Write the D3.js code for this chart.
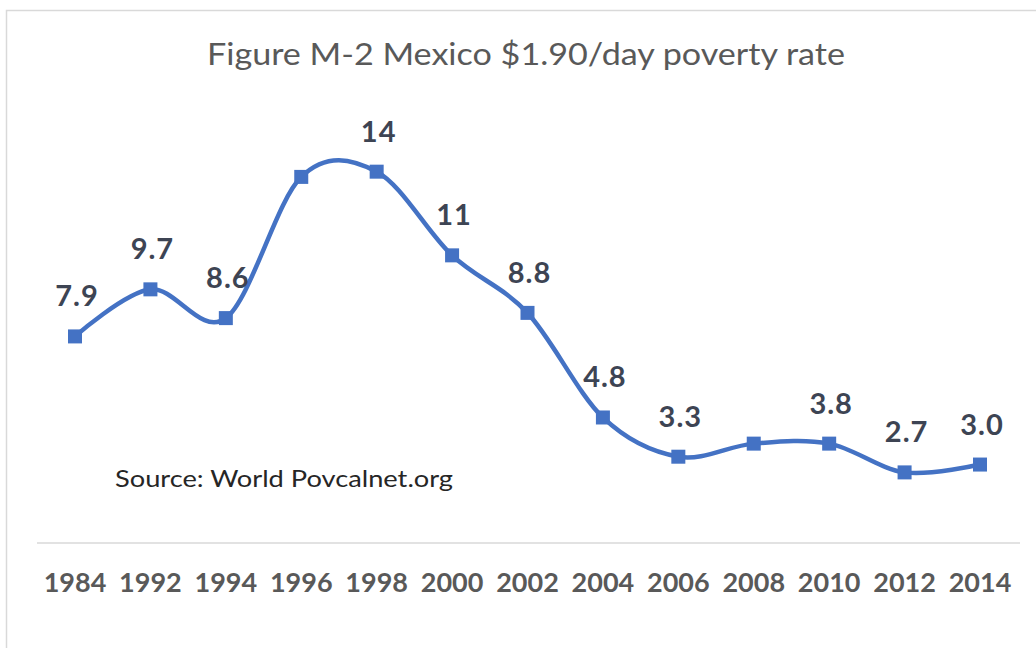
<!DOCTYPE html>
<html>
<head>
<meta charset="utf-8">
<script src="https://cdn.jsdelivr.net/npm/d3@7"></script>
<style>
  body { margin: 0; background: #fff; }
  text { font-family: Lato, "Open Sans", sans-serif; }
</style>
</head>
<body>
<div id="chart"></div>
<script>
// data
var years = ["1984", "1992", "1994", "1996", "1998", "2000", "2002", "2004", "2006", "2008", "2010", "2012", "2014"];
var rates = [7.9, 9.7, 8.6, 14.0, 14.2, 11.0, 8.8, 4.8, 3.3, 3.8, 3.8, 2.7, 3.0];
// which points carry a data label, and the text shown
var labels = ["7.9", "9.7", "8.6", null, "14", "11", "8.8", "4.8", "3.3", null, "3.8", "2.7", "3.0"];

var width = 1036, height = 648;

var svg = d3.select("#chart")
    .append("svg")
    .attr("width", width)
    .attr("height", height);

// chart frame
svg.append("rect")
    .attr("x", 6.5)
    .attr("y", 10.5)
    .attr("width", width + 10)
    .attr("height", height + 10)
    .attr("fill", "#fff")
    .attr("stroke", "#d9d9d9")
    .attr("stroke-width", 1.5);

var x = d3.scalePoint()
    .domain(years)
    .range([75, 980]);

var y = d3.scaleLinear()
    .domain([0, 16])
    .range([543, 543 - 16 * 26.15]);

// title
svg.append("text")
    .attr("x", 526)
    .attr("y", 65)
    .attr("text-anchor", "middle")
    .attr("font-size", 31)
    .attr("fill", "#595959")
    .attr("textLength", 638)
    .attr("lengthAdjust", "spacingAndGlyphs")
    .text("Figure M-2 Mexico $1.90/day poverty rate");

// x axis line
svg.append("line")
    .attr("x1", 37)
    .attr("x2", 1020)
    .attr("y1", y(0))
    .attr("y2", y(0))
    .attr("stroke", "#d9d9d9")
    .attr("stroke-width", 1.5);

// year labels
svg.selectAll(".tick")
    .data(years)
    .enter()
    .append("text")
    .attr("class", "tick")
    .attr("x", function (d) { return x(d); })
    .attr("y", 592)
    .attr("text-anchor", "middle")
    .attr("font-size", 27)
    .attr("font-weight", "bold")
    .attr("fill", "#595959")
    .text(function (d) { return d; });

var data = years.map(function (d, i) { return { year: d, value: rates[i], label: labels[i] }; });

var line = d3.line()
    .x(function (d) { return x(d.year); })
    .y(function (d) { return y(d.value); })
    .curve(d3.curveCardinal.tension(0));

svg.append("path")
    .datum(data)
    .attr("d", line)
    .attr("fill", "none")
    .attr("stroke", "#4472C4")
    .attr("stroke-width", 4.5)
    .attr("stroke-linejoin", "round");

svg.selectAll(".marker")
    .data(data)
    .enter()
    .append("rect")
    .attr("class", "marker")
    .attr("x", function (d) { return x(d.year) - 7; })
    .attr("y", function (d) { return y(d.value) - 7; })
    .attr("width", 14)
    .attr("height", 14)
    .attr("fill", "#4472C4");

svg.selectAll(".dlabel")
    .data(data.filter(function (d) { return d.label; }))
    .enter()
    .append("text")
    .attr("class", "dlabel")
    .attr("x", function (d) { return x(d.year) + 2; })
    .attr("y", function (d) { return y(d.value) - 30; })
    .attr("text-anchor", "middle")
    .attr("font-size", 29)
    .attr("font-weight", "bold")
    .attr("fill", "#3d4453")
    .attr("letter-spacing", 1)
    .text(function (d) { return d.label; });

// source note
svg.append("text")
    .attr("x", 115)
    .attr("y", 487)
    .attr("font-size", 24)
    .attr("fill", "#262626")
    .attr("textLength", 338)
    .attr("lengthAdjust", "spacingAndGlyphs")
    .text("Source: World Povcalnet.org");
</script>
</body>
</html>
